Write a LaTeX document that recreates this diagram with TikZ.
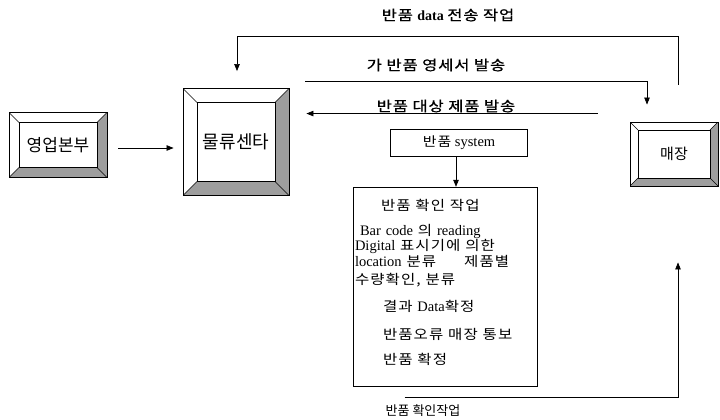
\documentclass[tikz,border=0pt]{standalone}
\usepackage{fontspec}
\setmainfont{Liberation Serif}
\newfontfamily\hanfont{Noto Sans CJK KR}
\newfontfamily\hanwide{Noto Sans CJK KR}[FakeStretch=1.18, LetterSpace=6, FakeBold=0.8]
\newfontfamily\hanbox{Noto Sans CJK KR}[FakeStretch=1.15, LetterSpace=8]
\usetikzlibrary{arrows.meta, positioning}
\newcommand{\kor}[1]{{\hanbox #1}}
\newcommand{\korlbl}[1]{{\hanwide #1}}
\tikzset{
  bevel/.style={draw=black, line width=0.9pt, fill=white, inner sep=0pt,
    align=center, font=\hanfont,
    path picture={
      \coordinate (bsw) at (path picture bounding box.south west);
      \coordinate (bse) at (path picture bounding box.south east);
      \coordinate (bne) at (path picture bounding box.north east);
      \coordinate (bnw) at (path picture bounding box.north west);
      \fill[black!38] (bne) -- (bse) -- ([xshift=-#1,yshift=#1]bse)
        -- ([xshift=-#1,yshift=-#1]bne) -- cycle;
      \fill[black!38] (bsw) -- (bse) -- ([xshift=-#1,yshift=#1]bse)
        -- ([xshift=#1,yshift=#1]bsw) -- cycle;
      \draw[line width=0.8pt] ([xshift=#1,yshift=#1]bsw)
        rectangle ([xshift=-#1,yshift=-#1]bne);
      \draw[line width=0.6pt] (bsw) -- ([xshift=#1,yshift=#1]bsw)
        (bse) -- ([xshift=-#1,yshift=#1]bse)
        (bne) -- ([xshift=-#1,yshift=-#1]bne)
        (bnw) -- ([xshift=#1,yshift=-#1]bnw);
    }},
  sysbox/.style={draw, line width=0.6pt, minimum width=137pt,
    minimum height=27pt, inner sep=2pt, font=\fontsize{14.5}{15}\selectfont},
  listbox/.style={draw, line width=0.6pt, minimum width=184pt,
    minimum height=199pt, text width=180pt, align=left, inner sep=2pt,
    font=\fontsize{14.5}{15}\selectfont},
  lbl/.style={inner sep=1pt, font=\fontsize{14}{15}\selectfont},
  arrow/.style={-{Triangle[length=7pt,width=5.5pt]}, line width=0.7pt}
}

\begin{document}
\begin{tikzpicture}[x=1pt, y=-1pt]
  \useasboundingbox (0,0) rectangle (720,420);

  \node[bevel=10pt, minimum width=98pt, minimum height=65pt,
    font=\hanfont\fontsize{17}{19}\selectfont] (sales) at (58,145) {영업본부};
  \node[bevel=14pt, minimum width=106pt, minimum height=107pt,
    font=\hanfont\fontsize{18}{20}\selectfont] (center) at (236,142) {물류센타};
  \node[bevel=8pt, minimum width=88pt, minimum height=64pt,
    font=\hanfont\fontsize{15}{17}\selectfont] (store) at (674,154) {매장};

  \node[sysbox] (sys) at (459,143) {\kor{\fontsize{13}{15}\selectfont 반품} system};
  \node[listbox, below=30pt of sys, xshift=-14pt] (check) {%
    \hspace*{26pt}\kor{\fontsize{13.5}{15}\selectfont 반품 확인 작업}\\[10pt]
    \hspace*{5pt}Bar code \kor{\fontsize{13.5}{15}\selectfont 의} reading\\
    Digital \kor{\fontsize{13.5}{15}\selectfont 표시기에 의한}\\[1pt]
    location \kor{\fontsize{13.5}{15}\selectfont 분류}\hspace{28pt}%
      \kor{\fontsize{13.5}{15}\selectfont 제품별}\\[3pt]
    \kor{\fontsize{13.5}{15}\selectfont 수량확인, 분류}\\[12pt]
    \hspace*{28pt}\kor{\fontsize{13.5}{15}\selectfont 결과} Data%
      \kor{\fontsize{13.5}{15}\selectfont 확정}\\[13pt]
    \hspace*{28pt}\kor{\fontsize{13.5}{15}\selectfont 반품오류 매장 통보}\\[10pt]
    \hspace*{28pt}\kor{\fontsize{13.5}{15}\selectfont 반품 확정}\\[-5pt]\mbox{}};

  \node[lbl] (lbldata) at (448,15) {\korlbl{반품} \textbf{data} \korlbl{전송 작업}};
  \node[lbl] (lblsend) at (436,65) {\korlbl{가 반품 영세서 발송}};
  \node[lbl] (lblgoods) at (446,106) {\korlbl{반품 대상 제품 발송}};
  \node[inner sep=1pt, font=\hanfont\fontsize{13}{15}\selectfont] (lblcheck)
    at (423,411) {반품 확인작업};

  \coordinate (ret) at ([xshift=-32pt,yshift=8pt]store.north west);

  \draw[arrow, shorten <=11pt, shorten >=9pt] (sales.east |- 0,148) -- (center.west |- 0,148);
  \draw[arrow, shorten <=37pt, shorten >=17pt] ([xshift=4pt]store.north)
    -- ++(0,-85) -| ([xshift=1pt]center.north);
  \draw[arrow, shorten >=17pt] ([xshift=16pt,yshift=7pt]center.north east)
    -| ([xshift=-27pt]store.north);
  \draw[arrow, shorten >=17pt] (ret) -- (ret -| center.east);
  \draw[arrow] ([xshift=-3pt]sys.south) -- ([xshift=-3pt]sys.south |- check.north);
  \draw[arrow, shorten >=76pt] ([xshift=52pt,yshift=-11pt]check.south west)
    -| ([xshift=4pt]store.south);
\end{tikzpicture}
\end{document}
